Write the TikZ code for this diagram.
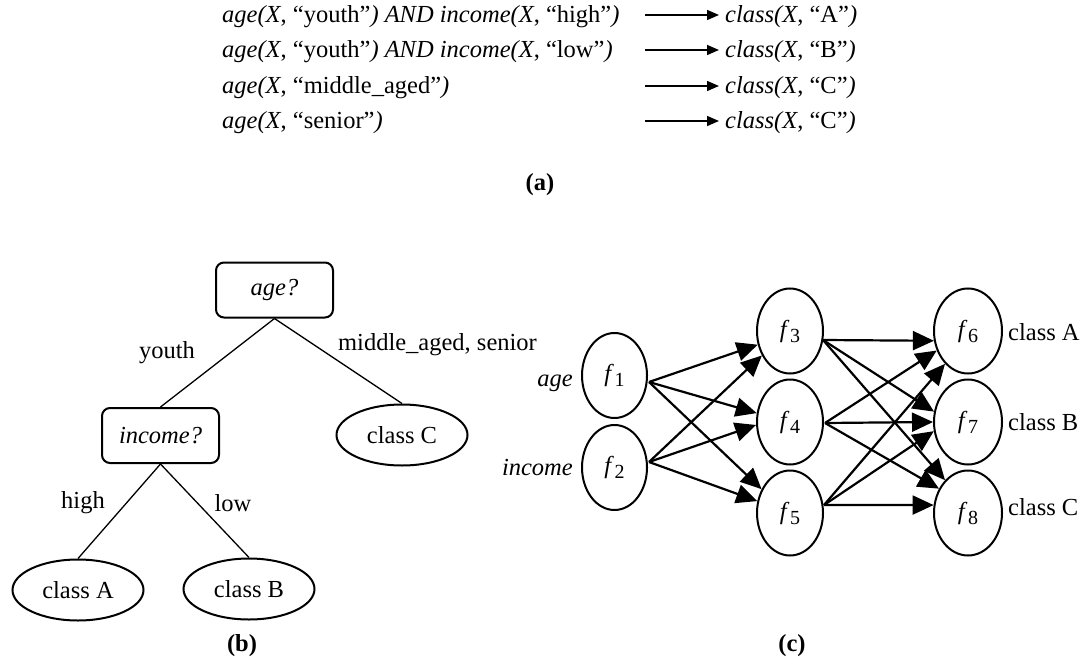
\documentclass[tikz,border=0pt]{standalone}
\usepackage{fontspec}
\setmainfont{Liberation Serif}
\usetikzlibrary{shapes.geometric,arrows.meta,calc}
\newcommand{\fv}[1]{\textit{f}\kern0.5pt\raisebox{-5pt}{\fontsize{20}{20}\selectfont #1}}
\begin{document}
\begin{tikzpicture}[x=1pt,y=-1pt,
  every node/.style={font=\fontsize{24.5}{28}\selectfont},
  lbl/.style={inner sep=0pt},
  qbox/.style={draw, line width=2pt, rounded corners=8pt, minimum width=117pt, minimum height=55pt, inner sep=0pt, font=\fontsize{24.5}{28}\selectfont\itshape},
  leaf/.style={draw, ellipse, line width=2pt, minimum width=131pt, minimum height=61pt, inner sep=0pt},
  neuron/.style={draw, ellipse, line width=2pt, minimum height=85pt, inner sep=0pt},
  treeedge/.style={line width=1.3pt},
  rulearrow/.style={line width=1.5pt, -{Triangle[length=12pt,width=10pt]}},
  nnarrow/.style={line width=2.2pt, -{Triangle[length=21pt,width=19pt]}},
]
\useasboundingbox (0,0) rectangle (1083,660);

% (a) rules
\node[lbl, anchor=base west] (r1) at (222,23) {\textit{age(X}, “youth”\textit{) AND income(X}, “high”\textit{)}};
\node[lbl, anchor=base west] (r2) at (222,58) {\textit{age(X}, “youth”\textit{) AND income(X}, “low”\textit{)}};
\node[lbl, anchor=base west] (r3) at (222,94) {\textit{age(X}, “middle\_aged”\textit{)}};
\node[lbl, anchor=base west] (r4) at (222,129) {\textit{age(X}, “senior”\textit{)}};
\node[lbl, anchor=base west] (c1) at (725,23) {\textit{class(X}, “A”\textit{)}};
\node[lbl, anchor=base west] (c2) at (725,58) {\textit{class(X}, “B”\textit{)}};
\node[lbl, anchor=base west] (c3) at (725,94) {\textit{class(X}, “C”\textit{)}};
\node[lbl, anchor=base west] (c4) at (725,129) {\textit{class(X}, “C”\textit{)}};
\coordinate (a1) at (645,15);
\coordinate (a2) at (645,50);
\coordinate (a3) at (645,86);
\coordinate (a4) at (645,121);
\draw[rulearrow, shorten >=6pt] (a1) -- (a1 -| c1.west);
\draw[rulearrow, shorten >=6pt] (a2) -- (a2 -| c2.west);
\draw[rulearrow, shorten >=6pt] (a3) -- (a3 -| c3.west);
\draw[rulearrow, shorten >=6pt] (a4) -- (a4 -| c4.west);
\node[lbl, font=\fontsize{24.5}{28}\selectfont\bfseries] (capa) at (540,185) {(a)};

% (b) tree
\node[qbox] (age) at (274.5,290) {age?};
\node[qbox] (inc) at (160.5,435.5) {income?};
\node[leaf] (cc) at (402,435) {class C};
\node[leaf] (ca) at (78,590) {class A};
\node[leaf] (cb) at (249,589) {class B};
\draw[treeedge] (age.south) -- (inc.north);
\draw[treeedge] (age.south) -- (cc.north);
\draw[treeedge] (inc.south) -- (ca.north);
\draw[treeedge] (inc.south) -- (cb.north);
\node[lbl] (lyouth) at (167,353) {youth};
\node[lbl] (lmid) at (437.5,345) {middle\_aged, senior};
\node[lbl] (lhigh) at (83,503) {high};
\node[lbl] (llow) at (233,503) {low};
\node[lbl, font=\fontsize{24.5}{28}\selectfont\bfseries] (capb) at (242,646) {(b)};

% (c) network
\node[neuron, minimum width=65pt] (f1) at (614.5,375.5) {\fv{1}};
\node[neuron, minimum width=65pt] (f2) at (614.5,467.5) {\fv{2}};
\node[neuron, minimum width=66pt] (f3) at (790,331) {\fv{3}};
\node[neuron, minimum width=66pt] (f4) at (790,422) {\fv{4}};
\node[neuron, minimum width=66pt] (f5) at (790,513) {\fv{5}};
\node[neuron, minimum width=68pt] (f6) at (968,331) {\fv{6}};
\node[neuron, minimum width=68pt] (f7) at (968,422) {\fv{7}};
\node[neuron, minimum width=68pt] (f8) at (968,513) {\fv{8}};
\node[lbl, anchor=east, font=\fontsize{24.5}{28}\selectfont\itshape] (inage) at (573,383) {age};
\node[lbl, anchor=east, font=\fontsize{24.5}{28}\selectfont\itshape] (ininc) at (573,468) {income};
\node[lbl, anchor=west] (outA) at (1008,332) {class A};
\node[lbl, anchor=west] (outB) at (1008,422) {class B};
\node[lbl, anchor=west] (outC) at (1008,507) {class C};
\coordinate (o1) at (649,382);
\coordinate (o2) at (649,462);
\coordinate (o3) at (823,340);
\coordinate (o4) at (825,423);
\coordinate (o5) at (824,505);
\draw[nnarrow] (o1) -- (f3.203);
\draw[nnarrow] (o2) -- (f3.221);
\draw[nnarrow] (o1) -- (f4.165);
\draw[nnarrow] (o2) -- (f4.185);
\draw[nnarrow] (o1) -- (f5.140);
\draw[nnarrow] (o2) -- (f5.160);
\draw[nnarrow] (o3) -- (f6.196);
\draw[nnarrow] (o4) -- (f6.212);
\draw[nnarrow] (o5) -- (f6.235);
\draw[nnarrow] (o3) -- (f7.163);
\draw[nnarrow] (o4) -- (f7.180);
\draw[nnarrow] (o5) -- (f7.195);
\draw[nnarrow] (o3) -- (f8.125);
\draw[nnarrow] (o4) -- (f8.140);
\draw[nnarrow] (o5) -- (f8.167);
\node[lbl, font=\fontsize{24.5}{28}\selectfont\bfseries] (capc) at (792,646) {(c)};
\end{tikzpicture}
\end{document}
